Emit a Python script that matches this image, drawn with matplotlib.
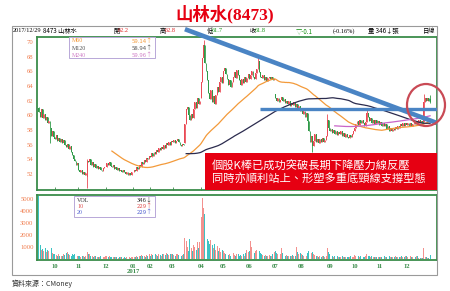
import numpy as np
import pandas as pd
import matplotlib
matplotlib.use("Agg")
import matplotlib.pyplot as plt
from matplotlib.patches import Rectangle, Ellipse

plt.rcParams['font.family'] = ['Noto Sans CJK TC', 'DejaVu Sans']

# ---------- data (daily) ----------
close_2016_09 = [60.5, 59.8, 60.8, 59.6, 60.2, 59.4, 59.8, 58.9, 59.2, 58.3, 57.2, 57.9, 57.0]
close_2016_10 = [56.8, 57.3, 56.5, 56.9, 56.4, 56.7, 56.2, 56.6, 56.0, 55.7, 56.1, 55.4, 55.8, 55.0,
                 54.6, 54.1, 53.8, 53.2, 53.5]
close_2016_11 = [52.6, 52.2, 52.5, 52.0, 52.3, 51.9, 52.1, 53.8, 53.6, 54.0, 53.2, 53.6, 53.0, 53.4,
                 52.8, 53.1, 52.7, 53.0, 52.6, 52.4, 52.8, 52.9]
close_2016_12 = [53.0, 53.5, 53.2, 53.6, 53.1, 52.9, 53.2, 52.7, 52.9, 52.5, 52.8, 52.4, 52.6, 52.3,
                 52.5, 52.2, 52.0, 52.3, 51.9, 52.1, 51.8, 52.2]
close_2017_01 = [52.3, 52.6, 52.4, 52.9, 52.7, 53.2, 53.0, 53.6, 53.4, 53.9, 53.6, 54.2, 54.0, 54.5]
close_2017_02 = [54.3, 54.8, 54.5, 55.0, 54.7, 55.3, 55.0, 55.5, 55.2, 55.7, 55.4, 56.0, 55.6, 56.2,
                 55.9, 56.3, 56.0, 56.5]
close_2017_03 = [56.3, 56.6, 56.2, 56.5, 56.8, 56.4, 56.0, 55.8, 56.1, 55.9, 58.8, 60.8, 61.2, 60.0,
                 59.3, 60.2, 59.6, 60.9, 61.8, 61.0, 62.3, 61.5, 62.0]
close_2017_04 = [64.5, 67.8, 69.6, 67.2, 66.0, 64.8, 63.0, 62.2, 63.5, 61.8, 62.6, 61.5, 62.8, 63.9,
                 63.2, 64.6, 65.2, 64.4]
close_2017_05 = [66.1, 66.5, 65.7, 64.9, 64.1, 64.8, 63.9, 64.5, 65.3, 65.9, 65.1, 66.2, 65.5, 64.8,
                 64.2, 65.0, 64.4, 65.3, 64.6, 65.1, 65.6]
close_2017_06 = [64.9, 65.5, 66.1, 65.3, 65.0, 65.8, 66.3, 67.4, 65.9, 65.3, 65.1, 65.5, 64.8, 65.2,
                 64.7, 65.1, 65.3, 64.9, 65.2, 64.8, 65.0]
close_2017_07 = [62.4, 62.0, 62.3, 61.8, 62.1, 62.5, 61.9, 62.2, 61.7, 62.0, 61.6, 61.9, 61.3, 61.7,
                 61.4, 61.8, 61.2, 61.6, 61.0, 61.3, 60.6]
close_2017_08 = [60.9, 60.2, 60.6, 59.8, 60.3, 59.2, 57.8, 56.4, 57.2, 55.8, 56.5, 57.4, 56.3, 56.8,
                 56.2, 56.7, 56.4, 56.9, 56.3, 56.6, 57.2, 59.4, 58.3]
close_2017_09 = [57.9, 58.2, 57.6, 58.0, 57.5, 57.8, 57.3, 57.7, 57.4, 57.9, 57.2, 57.6, 57.1, 57.5,
                 57.0, 56.9, 57.3, 57.0, 57.4, 57.8]
close_2017_10 = [58.3, 58.8, 59.2, 58.7, 59.3, 58.9, 59.4, 59.0, 58.6, 59.1, 60.3, 59.8, 59.2, 59.6,
                 59.0, 59.4, 58.8, 59.3, 58.9, 59.2]
close_2017_11 = [58.7, 59.1, 58.6, 59.0, 58.5, 58.8, 58.2, 58.5, 57.9, 58.3, 57.8, 58.2, 58.0, 58.4,
                 58.1, 58.6, 58.3, 58.8, 58.5, 58.9, 58.6, 59.0]
close_2017_12 = [58.7, 59.0, 58.6, 58.9, 58.5, 58.8, 59.1, 58.8, 59.2, 58.9, 59.3, 59.0, 59.2, 59.0,
                 61.8, 62.3, 61.9, 62.4, 61.9, 61.8]

vol_2016_09 = [5300, 1200, 750, 850, 700, 900, 600, 800, 650, 1000, 900, 500, 450]
vol_2016_10 = [400, 350, 300, 450, 300, 250, 300, 400, 350, 500, 600, 400, 350, 300, 450, 350, 400, 300, 250]
vol_2016_11 = [300, 250, 200, 250, 300, 200, 250, 600, 450, 400, 300, 250, 200, 250, 300, 200, 150, 200,
               250, 200, 150, 200]
vol_2016_12 = [250, 300, 200, 250, 200, 150, 200, 150, 200, 150, 120, 150, 200, 150, 120, 150, 100, 150,
               200, 150, 120, 150]
vol_2017_01 = [150, 200, 150, 250, 200, 300, 250, 350, 250, 300, 200, 350, 300, 400]
vol_2017_02 = [300, 400, 350, 300, 450, 350, 300, 400, 350, 300, 400, 450, 350, 500, 400, 350, 450, 400]
vol_2017_03 = [400, 350, 300, 450, 400, 350, 300, 250, 350, 400, 1800, 1500, 1000, 700, 1700, 900, 700,
               1200, 1000, 800, 1400, 900, 1400]
vol_2017_04 = [3500, 5100, 4300, 3800, 2000, 1700, 1500, 1300, 1600, 1200, 900, 1300, 800, 1100, 700,
               900, 600, 800]
vol_2017_05 = [650, 500, 400, 550, 350, 450, 300, 400, 500, 350, 300, 450, 400, 300, 350, 250, 400, 300,
               500, 800, 600]
vol_2017_06 = [700, 1500, 1000, 600, 500, 700, 800, 1300, 700, 500, 400, 350, 300, 350, 250, 300, 350,
               250, 300, 400, 600]
vol_2017_07 = [700, 500, 400, 350, 450, 900, 500, 400, 300, 350, 300, 250, 300, 250, 350, 300, 250, 1000,
               600, 400, 500]
vol_2017_08 = [450, 350, 300, 400, 300, 500, 700, 850, 500, 600, 400, 350, 250, 300, 200, 250, 200, 250,
               300, 200, 300, 950, 600]
vol_2017_09 = [400, 300, 250, 200, 250, 200, 250, 200, 150, 200, 250, 150, 200, 150, 200, 150, 200, 250,
               150, 200]
vol_2017_10 = [350, 300, 250, 300, 200, 250, 200, 150, 200, 250, 400, 300, 250, 200, 250, 150, 200, 150,
               200, 150]
vol_2017_11 = [200, 150, 200, 150, 250, 200, 150, 200, 250, 150, 200, 150, 200, 250, 150, 200, 150, 200,
               250, 150, 200, 250]
vol_2017_12 = [250, 200, 230, 280, 180, 220, 200, 210, 270, 254, 120, 110, 130, 100, 900, 200, 150, 120,
               110, 346]

# days with a gap open or a long shadow
open_gaps = {0: 61.0, 39: 51.6, 118: 56.2, 131: 62.4, 191: 62.9, 311: 59.1, 316: 62.2}
high_spikes = {0: 61.2, 39: 54.1, 133: 70.3, 177: 67.9, 233: 60.2, 265: 60.8, 311: 62.9, 316: 62.8}
low_spikes = {9: 56.2, 39: 50.1, 221: 55.0, 316: 61.7}

month_ticks = [13, 32, 54, 76, 90, 108, 131, 149, 170, 191, 212, 235, 255, 275, 297]
month_labels = ["10", "11", "12", "01\n2017", "02", "03", "04", "05", "06", "07", "08", "09",
                "10", "11", "12"]

price_ticks = [52, 54, 56, 58, 60, 62, 64, 66, 68, 70]
vol_ticks = [1000, 2000, 3000, 4000, 5000]

closes = np.array(close_2016_09 + close_2016_10 + close_2016_11 + close_2016_12 + close_2017_01
                  + close_2017_02 + close_2017_03 + close_2017_04 + close_2017_05 + close_2017_06
                  + close_2017_07 + close_2017_08 + close_2017_09 + close_2017_10 + close_2017_11
                  + close_2017_12)
volumes = np.array(vol_2016_09 + vol_2016_10 + vol_2016_11 + vol_2016_12 + vol_2017_01 + vol_2017_02
                   + vol_2017_03 + vol_2017_04 + vol_2017_05 + vol_2017_06 + vol_2017_07 + vol_2017_08
                   + vol_2017_09 + vol_2017_10 + vol_2017_11 + vol_2017_12)
n = len(closes)
idx = np.arange(n)
opens = np.array([open_gaps.get(i, closes[i - 1] if i > 0 else closes[0]) for i in idx])
highs = np.array([high_spikes.get(i, max(opens[i], closes[i])) for i in idx])
lows = np.array([low_spikes.get(i, min(opens[i], closes[i])) for i in idx])

s = pd.Series(closes)
m60 = s.rolling(60).mean()
m120 = s.rolling(120).mean()
m240 = s.rolling(240).mean()

# ---------- layout helpers (reference pixel coords) ----------
W, H = 450, 291
def fx(x):
    return x / W
def fy(y):
    return 1 - y / H

GREEN = "#3a8c4a"
ORANGE = "#f07a4a"
UP, DOWN = "#ea4a55", "#2f9a48"
VUP, VDOWN = "#f3918e", "#3cc3c3"

fig = plt.figure(figsize=(4.5, 2.91), dpi=100)
ax = fig.add_axes([fx(37), fy(190), (437 - 37) / W, (190 - 37) / H])
axv = fig.add_axes([fx(37), fy(260), (437 - 37) / W, (260 - 195) / H])

up = closes >= opens
ccol = np.where(up, UP, DOWN)
ax.vlines(idx, lows, highs, colors=ccol, lw=0.6, zorder=2)
ax.bar(idx, np.maximum(np.abs(closes - opens), 0.08), bottom=np.minimum(opens, closes),
       width=0.75, color=ccol, linewidth=0, zorder=2)

ax.plot(idx, m60, color="#f39a3a", lw=0.9, zorder=3)
ax.plot(idx, m120, color="#2b2b4e", lw=0.9, zorder=3)
ax.plot(idx, m240, color="#c864c8", lw=0.9, zorder=3)

# hand-drawn pressure line and neckline
ax.plot([118.0, 321.6], [71.77, 58.95], color="#4a84c4", lw=3.3, solid_capstyle="butt",
        clip_on=False, zorder=5)
ax.plot([179, 321.6], [60.8, 60.8], color="#4a84c4", lw=2.4, solid_capstyle="butt", zorder=5)

ax.set_xlim(-1.5, 321.6)
ax.set_ylim(49.8, 70.7)
ax.set_yticks(price_ticks)
ax.set_yticklabels([str(t) for t in price_ticks], family="Liberation Serif", fontsize=4.8)
ax.tick_params(axis="y", length=0, pad=2.5, labelcolor=ORANGE)
ax.set_xticks(month_ticks)
ax.set_xticklabels([])
ax.tick_params(axis="x", direction="in", length=2, color=GREEN, width=0.6)

vcol = np.where(up, VUP, VDOWN)
axv.bar(idx, volumes, width=0.75, color=vcol, linewidth=0)
axv.set_xlim(-1.5, 321.6)
axv.set_ylim(-60, 5360)
axv.set_yticks(vol_ticks)
axv.set_yticklabels([str(t) for t in vol_ticks], family="Liberation Serif", fontsize=4.8)
axv.tick_params(axis="y", length=0, pad=2.5, labelcolor=ORANGE)
axv.set_xticks(month_ticks)
axv.set_xticklabels(month_labels, family="Liberation Serif", fontsize=4.8, fontweight="bold",
                    color=GREEN, linespacing=0.95)
axv.tick_params(axis="x", length=0, pad=3)

for a in (ax, axv):
    for sp in a.spines.values():
        sp.set_color(GREEN)
        sp.set_linewidth(1.3)

# outer frame
fig.add_artist(Rectangle((fx(12), fy(275)), (437 - 12) / W, (275 - 26) / H, transform=fig.transFigure,
                         fill=False, ec="#9a9a9a", lw=0.8, zorder=1))

# title
fig.text(0.5, fy(14), "山林水(8473)", color="#e60012", fontsize=12.5, ha="center", va="center",
         family=["Liberation Serif", "Noto Sans CJK TC"], fontweight="bold")

# header row
hy = fy(31)
hs = 4.5
fig.text(fx(13), hy, "2017/12/29", fontsize=hs, va="center", family="Liberation Serif")
fig.text(fx(43), hy, "8473 山林水", fontsize=hs, va="center")
header = [(113, "開", "62.2", "#e02020"), (160, "高", "62.8", "#e02020"),
          (207, "低", "61.7", "#129012"), (250, "收", "61.8", "#129012")]
for x, k, v, c in header:
    fig.text(fx(x), hy, k, fontsize=hs, va="center")
    fig.text(fx(x + 5), hy, v, fontsize=hs, va="center", color=c, family="Liberation Serif")
fig.text(fx(296), hy, "▽-0.1", fontsize=hs, va="center", color="#129012")
fig.text(fx(333), hy, "(-0.16%)", fontsize=hs, va="center", family="Liberation Serif")
fig.text(fx(368), hy, "量 346↓張", fontsize=hs, va="center")
fig.text(fx(435), hy, "日線", fontsize=hs, va="center", ha="right")

# MA legend box
fig.add_artist(Rectangle((fx(69), fy(58)), (155 - 69) / W, (58 - 37) / H, transform=fig.transFigure,
                         fc="white", ec="#b8a8d8", lw=0.7, zorder=8))
ma_rows = [(41, "M60", "59.14↑", "#f39a3a"), (48.3, "M120", "58.94↑", "#555555"),
           (55.3, "M240", "59.96↑", "#d080c8")]
for y, k, v, c in ma_rows:
    fig.text(fx(72), fy(y), k, fontsize=4.3, va="center", color=c, zorder=9, family="Liberation Serif")
    fig.text(fx(153), fy(y), v, fontsize=4.3, va="center", ha="right", color=c, zorder=9)

# volume legend box
fig.add_artist(Rectangle((fx(74), fy(217)), (155 - 74) / W, (217 - 196) / H, transform=fig.transFigure,
                         fc="white", ec="#b8a8d8", lw=0.7, zorder=8))
vol_rows = [(200, "VOL", "346↓", "#333333"), (206, "10", "229↑", "#e05050"),
            (212, "20", "229↑", "#5060d0")]
for y, k, v, c in vol_rows:
    fig.text(fx(77), fy(y), k, fontsize=4.3, va="center", color=c, zorder=9, family="Liberation Serif")
    fig.text(fx(153), fy(y), v, fontsize=4.3, va="center", ha="right", color=c, zorder=9)

# red circle around the breakout
fig.add_artist(Ellipse((fx(426), fy(105)), 38 / W, 42 / H, transform=fig.transFigure, fill=False,
                       ec="#c94a55", lw=1.6, zorder=9))

# comment box
fig.add_artist(Rectangle((fx(205), fy(190)), (437 - 205) / W, (190 - 153) / H, transform=fig.transFigure,
                         fc="#e60012", ec="none", zorder=10))
fig.text(fx(212), fy(166.5), "個股K棒已成功突破長期下降壓力線反壓", color="white", fontsize=8.1,
         va="center", zorder=11)
fig.text(fx(212), fy(179.5), "同時亦順利站上、形塑多重底頸線支撐型態", color="white", fontsize=8.1,
         va="center", zorder=11)

fig.text(fx(12), fy(284), "資料來源：CMoney", fontsize=5, va="center", color="#333333")

fig.savefig("out.png", dpi=100)
